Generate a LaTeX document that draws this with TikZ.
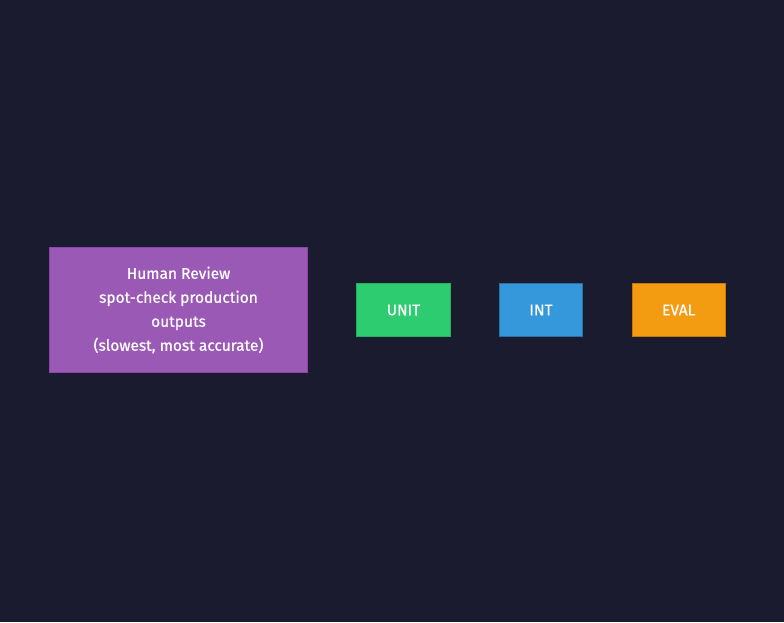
\documentclass[tikz,border=0pt]{standalone}
\usepackage{fontspec}
\setmainfont{Fira Sans}
\newfontfamily\nodefont{Fira Sans}[FakeBold=0.5]
\definecolor{bg}{HTML}{1A1B2E}
\definecolor{purpfill}{HTML}{9B59B6}
\definecolor{purpline}{HTML}{8E44AD}
\definecolor{greenfill}{HTML}{2ECC71}
\definecolor{greenline}{HTML}{27AE60}
\definecolor{bluefill}{HTML}{3498DB}
\definecolor{blueline}{HTML}{2A6FA8}
\definecolor{orangefill}{HTML}{F39C12}
\definecolor{orangeline}{HTML}{C8780A}
\tikzset{
  box/.style={draw, line width=1pt, text=white, align=center, font=\nodefont\fontsize{15.5}{24}\selectfont, inner sep=0pt, anchor=center},
}
\begin{document}
\begin{tikzpicture}[x=1pt,y=1pt]
\fill[bg] (0,0) rectangle (784,-622);
\useasboundingbox (0,0) rectangle (784,-622);
\node[box, fill=purpfill, draw=purpline, minimum width=258pt, minimum height=125pt] (human) at (178.5,-310)
  {Human Review\\spot-check production\\outputs\\(slowest, most accurate)};
\node[box, fill=greenfill, draw=greenline, minimum width=94pt, minimum height=53.5pt] (unit) at (403.5,-310) {UNIT};
\node[box, fill=bluefill, draw=blueline, minimum width=83pt, minimum height=53.5pt] (int) at (541,-310) {INT};
\node[box, fill=orangefill, draw=orangeline, minimum width=93.5pt, minimum height=53.5pt] (eval) at (678.75,-310) {EVAL};
\end{tikzpicture}
\end{document}
